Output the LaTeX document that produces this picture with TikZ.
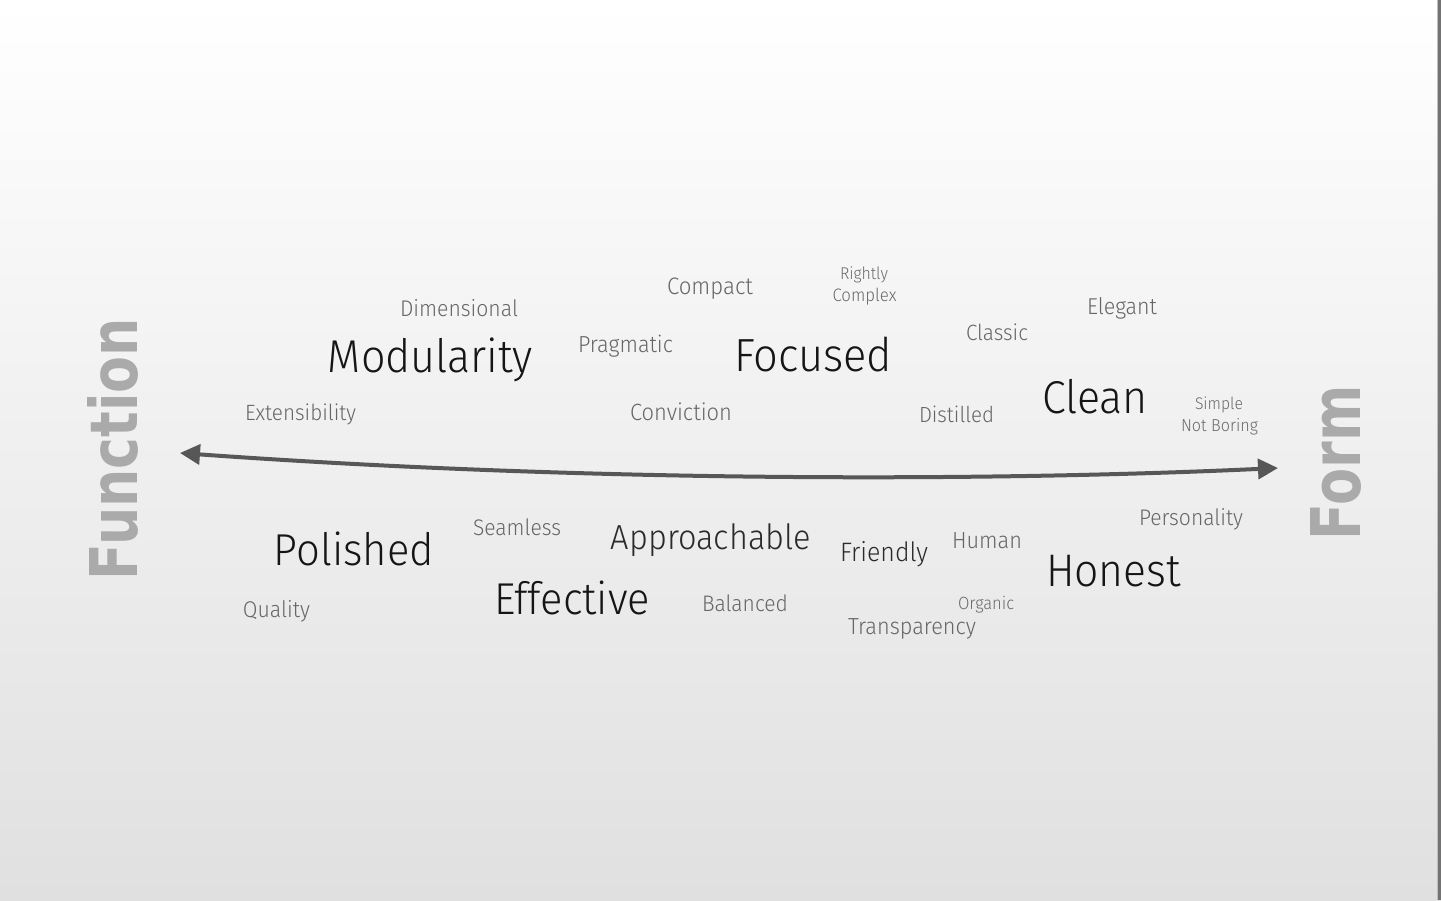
\documentclass[tikz,border=0pt]{standalone}
\usepackage{graphicx}
\usepackage{fontspec}
\IfFontExistsTF{Fira Sans Light}{\setmainfont{Fira Sans Light}}{\setmainfont{Fira Sans}}
\newfontfamily\axisfont{DejaVu Sans Bold}
\usetikzlibrary{arrows.meta}
\definecolor{bgtop}{HTML}{FFFFFF}
\definecolor{bgbot}{HTML}{E0E0E0}
\definecolor{cblack}{HTML}{151515}
\definecolor{cdark}{HTML}{2A2A2A}
\definecolor{cgray}{HTML}{666666}
\definecolor{clight}{HTML}{6A6A6A}
\definecolor{caxis}{HTML}{AAAAAA}
\definecolor{carrow}{HTML}{575757}
\newcommand{\fitw}[2]{\scalebox{1}[1.07]{\resizebox{#1pt}{!}{#2}}}
\newcommand{\fitwh}[3]{\resizebox{#1pt}{#2pt}{#3}}
\begin{document}
\begin{tikzpicture}[x=1pt,y=-1pt,
  word/.style={inner sep=0pt, outer sep=0pt, anchor=center, font=\fontsize{20}{24}\selectfont},
  wbig/.style={word, yshift=1pt, text=cblack},
  wdark/.style={word, yshift=-1pt, text=cdark},
  wgray/.style={word, yshift=-1.5pt, text=cgray},
  wlight/.style={word, yshift=-1.5pt, text=clight},
  axislabel/.style={inner sep=0pt, outer sep=0pt, anchor=center, rotate=90, text=caxis, font=\axisfont\fontsize{40}{48}\selectfont},
  axisline/.style={draw=carrow, line width=4pt, {Triangle[length=20pt,width=20pt]}-{Triangle[length=20pt,width=20pt]}}
]
\useasboundingbox (0,0) rectangle (1441,900);
\shade[top color=bgtop, bottom color=bgbot] (0,0) rectangle (1441,900);
\fill[black!25] (1437.2,0) rectangle (1438.4,900);
\fill[black!55] (1438.4,0) rectangle (1441,900);

% axis labels
\node[axislabel] (function) at (113,449) {\fitwh{262}{50}{Function}};
\node[axislabel] (form) at (1335.5,462.5) {\fitwh{155}{50}{Form}};

% axis arrow
\coordinate (leftend) at (180,453);
\coordinate (rightend) at (1278,468);
\draw[axisline] (leftend) .. controls (600,483) and (1000,481) .. (rightend);

% upper words
\node[wgray]  (dimensional) at (459,307) {\fitw{118}{Dimensional}};
\node[wgray]  (compact) at (710,287) {\fitw{86}{Compact}};
\node[wlight] (rightly) at (864,273) {\fitw{48}{Rightly}};
\node[wlight] (complex) at (864.5,295) {\fitw{64}{Complex}};
\node[wgray]  (classic) at (997,331) {\fitw{62}{Classic}};
\node[wgray]  (elegant) at (1122,307) {\fitw{70}{Elegant}};
\node[wbig]   (modularity) at (430.5,361) {\fitw{205}{Modularity}};
\node[wgray]  (pragmatic) at (625.5,345) {\fitw{95}{Pragmatic}};
\node[wbig]   (focused) at (813,355) {\fitw{158}{Focused}};
\node[wgray]  (extensibility) at (300.5,413) {\fitw{111}{Extensibility}};
\node[wgray]  (conviction) at (681,410) {\fitw{102}{Conviction}};
\node[wgray]  (distilled) at (956.5,413) {\fitw{75}{Distilled}};
\node[wbig]   (clean) at (1095,398) {\fitw{106}{Clean}};
\node[wlight] (simple) at (1219,403) {\fitw{48}{Simple}};
\node[wlight] (notboring) at (1219.5,425) {\fitw{77}{Not Boring}};

% lower words
\node[wbig]   (polished) at (354,550) {\fitw{160}{Polished}};
\node[wgray]  (seamless) at (517,526) {\fitw{88}{Seamless}};
\node[wdark]  (approachable) at (711,539) {\fitw{200}{Approachable}};
\node[wdark]  (friendly) at (884,553) {\fitw{88}{Friendly}};
\node[wgray]  (human) at (987,539) {\fitw{70}{Human}};
\node[wgray]  (personality) at (1191,518) {\fitw{104}{Personality}};
\node[wbig]   (honest) at (1113.5,572) {\fitw{135}{Honest}};
\node[wgray]  (quality) at (276.5,610) {\fitw{67}{Quality}};
\node[wbig]   (effective) at (572,599) {\fitw{156}{Effective}};
\node[wgray]  (balanced) at (745,602) {\fitw{86}{Balanced}};
\node[wlight] (organic) at (986,603) {\fitw{56}{Organic}};
\node[wgray]  (transparency) at (912,627) {\fitw{128}{Transparency}};
\end{tikzpicture}
\end{document}
